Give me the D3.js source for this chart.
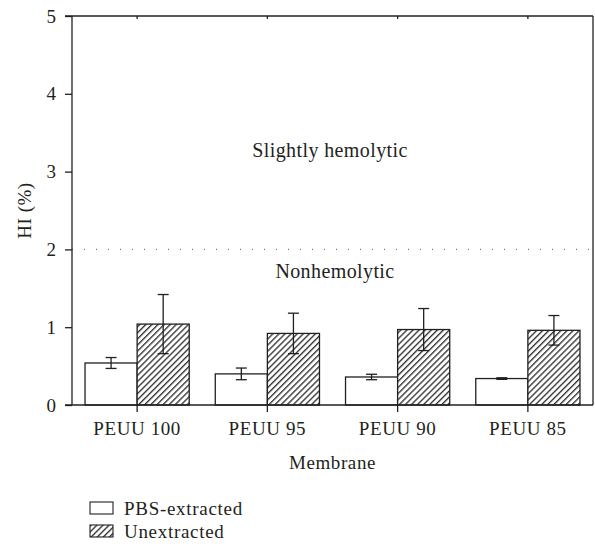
<!DOCTYPE html>
<html>
<head>
<meta charset="utf-8">
<script src="https://cdn.jsdelivr.net/npm/d3@7"></script>
<style>
  body { margin: 0; background: #fff; }
  text { font-family: "Liberation Serif", "DejaVu Serif", serif; fill: #231f20; }
</style>
</head>
<body>
<div id="chart"></div>
<script>
var membranes = ['PEUU 100', 'PEUU 95', 'PEUU 90', 'PEUU 85'];
var series = ['PBS-extracted', 'Unextracted'];
var pbsValues = [0.54, 0.40, 0.36, 0.34];
var pbsErrors = [0.07, 0.075, 0.035, 0.01];
var unextValues = [1.04, 0.92, 0.97, 0.96];
var unextErrors = [0.38, 0.26, 0.27, 0.19];
var yTicks = [0, 1, 2, 3, 4, 5];
var threshold = 2;

var width = 595, height = 548;
var margin = { top: 16, right: 2, bottom: 143, left: 72 };
var innerW = width - margin.left - margin.right;
var innerH = height - margin.top - margin.bottom;

var svg = d3.select('#chart').append('svg')
  .attr('width', width)
  .attr('height', height);

var defs = svg.append('defs');
var hatch = defs.append('pattern')
  .attr('id', 'hatch')
  .attr('patternUnits', 'userSpaceOnUse')
  .attr('width', 4.3)
  .attr('height', 4.3)
  .attr('patternTransform', 'rotate(45)');
hatch.append('rect').attr('width', 4.3).attr('height', 4.3).attr('fill', '#fff');
hatch.append('line')
  .attr('x1', 0.7).attr('y1', 0).attr('x2', 0.7).attr('y2', 4.3)
  .attr('stroke', '#1a1718').attr('stroke-width', 1.2);

var g = svg.append('g')
  .attr('transform', 'translate(' + margin.left + ',' + margin.top + ')');

var x0 = d3.scaleBand().domain(membranes).range([0, innerW]);
var y = d3.scaleLinear().domain([0, 5]).range([innerH, 0]);

var rows = membranes.map(function(m, i) {
  return [
    { m: m, s: series[0], v: pbsValues[i], e: pbsErrors[i] },
    { m: m, s: series[1], v: unextValues[i], e: unextErrors[i] }
  ];
});

var barW = x0.bandwidth() * 0.4;

// threshold line
g.append('line')
  .attr('x1', 0).attr('x2', innerW)
  .attr('y1', y(threshold)).attr('y2', y(threshold))
  .attr('stroke', '#777')
  .attr('stroke-width', 1.2)
  .attr('stroke-dasharray', '1,11');

g.append('text')
  .attr('x', 258).attr('y', y(threshold) - 92)
  .attr('text-anchor', 'middle')
  .style('font-size', '20px')
  .style('letter-spacing', '0.4px')
  .text('Slightly hemolytic');

g.append('text')
  .attr('x', 263).attr('y', y(threshold) + 29)
  .attr('text-anchor', 'middle')
  .style('font-size', '20px')
  .style('letter-spacing', '0.4px')
  .text('Nonhemolytic');

// bars
var groups = g.selectAll('.grp')
  .data(rows)
  .enter().append('g')
  .attr('class', 'grp')
  .attr('transform', function(d) {
    return 'translate(' + (x0(d[0].m) + x0.bandwidth() / 2) + ',0)';
  });

groups.selectAll('rect')
  .data(function(d) { return d; })
  .enter().append('rect')
  .attr('x', function(d, i) { return i === 0 ? -barW : 0; })
  .attr('y', function(d) { return y(d.v); })
  .attr('width', barW)
  .attr('height', function(d) { return innerH - y(d.v); })
  .attr('fill', function(d, i) { return i === 0 ? '#fff' : 'url(#hatch)'; })
  .attr('stroke', '#231f20')
  .attr('stroke-width', 1.3);

var err = groups.selectAll('.err')
  .data(function(d) { return d; })
  .enter().append('g')
  .attr('class', 'err')
  .attr('transform', function(d, i) {
    return 'translate(' + (i === 0 ? -barW / 2 : barW / 2) + ',0)';
  });

err.append('line')
  .attr('x1', 0).attr('x2', 0)
  .attr('y1', function(d) { return y(d.v + d.e); })
  .attr('y2', function(d) { return y(d.v - d.e); })
  .attr('stroke', '#231f20').attr('stroke-width', 1.3);

err.selectAll('.cap')
  .data(function(d) { return [d.v + d.e, d.v - d.e]; })
  .enter().append('line')
  .attr('x1', -5.5).attr('x2', 5.5)
  .attr('y1', function(v) { return y(v); })
  .attr('y2', function(v) { return y(v); })
  .attr('stroke', '#231f20').attr('stroke-width', 1.3);

// axes
var yAxis = g.append('g')
  .call(d3.axisLeft(y).tickValues(yTicks).tickSize(7).tickPadding(9).tickFormat(d3.format('d')));
yAxis.select('.domain').attr('stroke', '#231f20').attr('stroke-width', 1.3).attr('d', 'M0,' + innerH + 'V0');
yAxis.selectAll('.tick line').attr('stroke', '#231f20').attr('stroke-width', 1.3);
yAxis.selectAll('text').style('font-size', '19px').attr('fill', '#231f20');

var xAxis = g.append('g')
  .attr('transform', 'translate(0,' + innerH + ')')
  .call(d3.axisBottom(x0).tickSize(7).tickPadding(10));
xAxis.select('.domain').attr('stroke', '#231f20').attr('stroke-width', 1.3).attr('d', 'M-7,0H' + innerW);
xAxis.selectAll('.tick line').attr('stroke', '#231f20').attr('stroke-width', 1.3);
xAxis.selectAll('text').style('font-size', '19px').style('letter-spacing', '0.6px').attr('fill', '#231f20');

var topAxis = g.append('g')
  .call(d3.axisTop(x0).tickSize(-3).tickFormat(''));
topAxis.select('.domain').attr('stroke', '#231f20').attr('stroke-width', 1.3).attr('d', 'M-7,0H' + innerW);
topAxis.selectAll('.tick line').attr('stroke', '#231f20').attr('stroke-width', 1.3);

g.append('line')
  .attr('x1', innerW).attr('x2', innerW)
  .attr('y1', 0).attr('y2', innerH)
  .attr('stroke', '#231f20').attr('stroke-width', 1.3);

// axis titles
svg.append('text')
  .attr('transform', 'translate(31,' + (margin.top + innerH / 2) + ') rotate(-90)')
  .attr('text-anchor', 'middle')
  .style('font-size', '19px')
  .style('letter-spacing', '0.5px')
  .text('HI (%)');

svg.append('text')
  .attr('x', margin.left + innerW / 2).attr('y', 469)
  .attr('text-anchor', 'middle')
  .style('font-size', '19px')
  .style('letter-spacing', '0.6px')
  .text('Membrane');

// legend
var legend = svg.append('g')
  .attr('transform', 'translate(90,502)')
  .selectAll('g')
  .data(series)
  .enter().append('g')
  .attr('transform', function(d, i) { return 'translate(0,' + i * 23 + ')'; });

legend.append('rect')
  .attr('width', 23).attr('height', 12)
  .attr('fill', function(d, i) { return i === 0 ? '#fff' : 'url(#hatch)'; })
  .attr('stroke', '#231f20').attr('stroke-width', 1.1);

legend.append('text')
  .attr('x', 34).attr('y', 12.5)
  .style('font-size', '19px')
  .style('letter-spacing', '0.7px')
  .text(function(d) { return d; });
</script>
</body>
</html>
